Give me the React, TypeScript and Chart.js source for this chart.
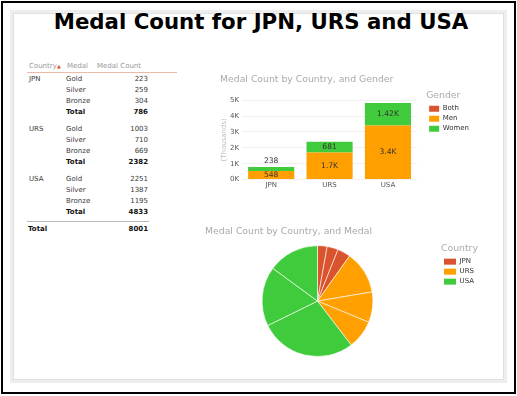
import React, { useEffect, useRef } from 'react';
import { Chart, registerables } from 'chart.js';
Chart.register(...registerables);

const TITLE = 'Medal Count for JPN, URS and USA';
const countries = ['JPN', 'URS', 'USA'];
const medals = ['Gold', 'Silver', 'Bronze'];
const jpnMedals = [223, 259, 304];
const ursMedals = [1003, 710, 669];
const usaMedals = [2251, 1387, 1195];
const genders = ['Both', 'Men', 'Women'];
const bothByCountry = [0, 0, 0];
const menByCountry = [548, 1701, 3403];
const womenByCountry = [238, 681, 1420];
const yMax = 5000;
const yStep = 1000;

const RED = '#D9542C';
const ORANGE = '#FFA000';
const GREEN = '#40CB3C';
const countryColors = [RED, ORANGE, GREEN];
const FONT = '"DejaVu Sans", Verdana, sans-serif';

const medalsByCountry = [jpnMedals, ursMedals, usaMedals];

function fmt(v: number): string {
  if (v < 1000) return String(v);
  return parseFloat((v / 1000).toPrecision(3)) + 'K';
}

const barLabels = {
  id: 'barLabels',
  afterDatasetsDraw(chart: any) {
    const ctx = chart.ctx;
    ctx.save();
    ctx.font = `7.6px ${FONT}`;
    ctx.fillStyle = '#333';
    ctx.textAlign = 'center';
    ctx.textBaseline = 'middle';
    chart.data.datasets.forEach((ds: any, di: number) => {
      const meta = chart.getDatasetMeta(di);
      meta.data.forEach((el: any, i: number) => {
        const v = ds.data[i];
        if (!v) return;
        const { x, y, base } = el.getProps(['x', 'y', 'base'], true);
        const h = base - y;
        const ty = h >= 6 ? y + h / 2 : y - 6;
        ctx.fillText(fmt(v), x, ty);
      });
    });
    ctx.restore();
  },
};

const legendShift = {
  id: 'legendShift',
  afterLayout(chart: any, _args: any, opts: any) {
    const l = chart.legend;
    if (l && opts && opts.dx) {
      l.left += opts.dx;
      l.right += opts.dx;
    }
  },
};

function BarChart() {
  const ref = useRef<HTMLCanvasElement>(null);
  useEffect(() => {
    const chart = new Chart(ref.current!, {
      type: 'bar',
      data: {
        labels: countries,
        datasets: [
          { label: genders[0], data: bothByCountry, backgroundColor: RED },
          { label: genders[1], data: menByCountry, backgroundColor: ORANGE },
          { label: genders[2], data: womenByCountry, backgroundColor: GREEN },
        ],
      },
      options: {
        animation: false,
        responsive: false,
        devicePixelRatio: 1,
        events: [],
        layout: { padding: { left: 30, right: 30, top: 0, bottom: 0 } },
        datasets: { bar: { categoryPercentage: 0.79, barPercentage: 1 } },
        scales: {
          x: {
            stacked: true,
            grid: { display: false, drawTicks: false },
            border: { display: false },
            ticks: { color: '#555', font: { family: FONT, size: 7 }, padding: 1 },
          },
          y: {
            stacked: true,
            min: 0,
            max: yMax,
            grid: { color: '#f0f0f0', drawTicks: false },
            border: { display: false },
            ticks: {
              stepSize: yStep,
              color: '#555',
              font: { family: FONT, size: 7 },
              padding: 3,
              callback: (v: any) => Number(v) / 1000 + 'K',
            },
            title: { display: true, text: '(Thousands)', color: '#bbb', font: { family: FONT, size: 7 }, padding: 0 },
            afterFit: (s: any) => { s.width = 22; },
          },
        },
        plugins: {
          title: {
            display: true,
            text: 'Medal Count by Country, and Gender',
            align: 'start',
            color: '#aaa',
            font: { family: FONT, size: 9.3, weight: 'normal' },
            padding: { top: 8, bottom: 15 },
          },
          legend: {
            position: 'right',
            align: 'start',
            title: { display: true, text: 'Gender', color: '#aaa', position: 'start', font: { family: FONT, size: 9.3 }, padding: { top: 25, bottom: 0 } },
            labels: { boxWidth: 10, boxHeight: 6, padding: 3, color: '#333', font: { family: FONT, size: 7 } },
          },
          legendShift: { dx: 9 },
          tooltip: { enabled: false },
        },
      } as any,
      plugins: [barLabels, legendShift],
    });
    return () => chart.destroy();
  }, []);
  return <canvas ref={ref} width={310} height={124} style={{ position: 'absolute', left: 190, top: 66 }} />;
}

function PieChart() {
  const ref = useRef<HTMLCanvasElement>(null);
  useEffect(() => {
    const values: number[] = [];
    const colors: string[] = [];
    const labels: string[] = [];
    medalsByCountry.forEach((arr, ci) => {
      arr.forEach((v, mi) => {
        values.push(v);
        colors.push(countryColors[ci]);
        labels.push(countries[ci] + ' ' + medals[mi]);
      });
    });
    const chart = new Chart(ref.current!, {
      type: 'pie',
      data: {
        labels,
        datasets: [{ data: values, backgroundColor: colors, borderColor: 'rgba(255,255,255,0.6)', borderWidth: 1, hoverOffset: 0 }],
      },
      options: {
        animation: false,
        responsive: false,
        devicePixelRatio: 1,
        events: [],
        layout: { padding: { left: 5, right: 32, top: 0, bottom: 2 } },
        plugins: {
          title: {
            display: true,
            text: 'Medal Count by Country, and Medal',
            align: 'start',
            color: '#aaa',
            font: { family: FONT, size: 9.3, weight: 'normal' },
            padding: { top: 4, bottom: 8 },
          },
          legend: {
            position: 'right',
            align: 'start',
            title: { display: true, text: 'Country', color: '#aaa', position: 'start', font: { family: FONT, size: 9.3 }, padding: { top: 22, bottom: 0 } },
            labels: {
              boxWidth: 12,
              boxHeight: 6,
              padding: 3,
              color: '#333',
              font: { family: FONT, size: 7 },
              generateLabels: () =>
                countries.map((c, i) => ({
                  text: c,
                  fillStyle: countryColors[i],
                  strokeStyle: countryColors[i],
                  lineWidth: 0,
                  hidden: false,
                  index: i,
                  fontColor: '#333',
                })),
            },
          },
          legendShift: { dx: 11 },
          tooltip: { enabled: false },
        },
      } as any,
      plugins: [legendShift],
    });
    return () => chart.destroy();
  }, []);
  return <canvas ref={ref} width={305} height={137} style={{ position: 'absolute', left: 200, top: 222 }} />;
}

const cell = (x: number, y: number, text: string, opts: any = {}) => (
  <div
    key={`${x}-${y}-${text}`}
    style={{
      position: 'absolute',
      left: opts.right ? undefined : x,
      right: opts.right ? 517 - x : undefined,
      top: y - 5,
      height: 10,
      lineHeight: '10px',
      fontSize: opts.size || 7,
      fontFamily: FONT,
      fontWeight: opts.bold ? 'bold' : 'normal',
      color: opts.color || (opts.bold ? '#111' : '#3a3a3a'),
      whiteSpace: 'nowrap',
    }}
  >
    {text}
  </div>
);

function Table() {
  const items: any[] = [];
  items.push(cell(29, 66, 'Country', { color: '#999' }));
  items.push(cell(57, 66, '▲', { color: '#d9542c', size: 5 }));
  items.push(cell(67, 66, 'Medal', { color: '#999' }));
  items.push(cell(97, 66, 'Medal Count', { color: '#999' }));
  let grand = 0;
  medalsByCountry.forEach((arr, g) => {
    const y0 = 78.5 + g * 50;
    items.push(cell(29, y0, countries[g]));
    let total = 0;
    arr.forEach((v, r) => {
      total += v;
      items.push(cell(66, y0 + r * 11.3, medals[r]));
      items.push(cell(148, y0 + r * 11.3, String(v), { right: true }));
    });
    grand += total;
    items.push(cell(66, y0 + 3 * 11.3, 'Total', { bold: true }));
    items.push(cell(148, y0 + 3 * 11.3, String(total), { right: true, bold: true }));
  });
  items.push(cell(28, 228.5, 'Total', { bold: true }));
  items.push(cell(148, 228.5, String(grand), { right: true, bold: true }));
  return (
    <>
      <div style={{ position: 'absolute', left: 27, top: 72, width: 150, height: 1, background: '#efb9aa' }} />
      <div style={{ position: 'absolute', left: 27, top: 221, width: 122, height: 1, background: '#bbb' }} />
      {items}
    </>
  );
}

export default function App() {
  return (
    <div style={{ position: 'absolute', left: 0, top: 0, width: 517, height: 396, background: '#fff', overflow: 'hidden' }}>
      <div style={{ position: 'absolute', left: 1, top: 1, width: 515, height: 393, border: '2px solid #000', boxSizing: 'border-box' }} />
      <div style={{ position: 'absolute', left: 10, top: 10, width: 497, height: 373, border: '3px solid #eeeeee', boxSizing: 'border-box' }} />
      <div style={{ position: 'absolute', left: 13, top: 13, width: 491, height: 367, border: '1px solid #e0e0e0', boxSizing: 'border-box' }} />
      <div
        style={{
          position: 'absolute',
          left: 0,
          width: 522,
          top: 9,
          textAlign: 'center',
          fontFamily: FONT,
          fontWeight: 'bold',
          fontSize: 21.3,
          lineHeight: '26px',
          color: '#000',
        }}
      >
        {TITLE}
      </div>
      <Table />
      <BarChart />
      <PieChart />
    </div>
  );
}
